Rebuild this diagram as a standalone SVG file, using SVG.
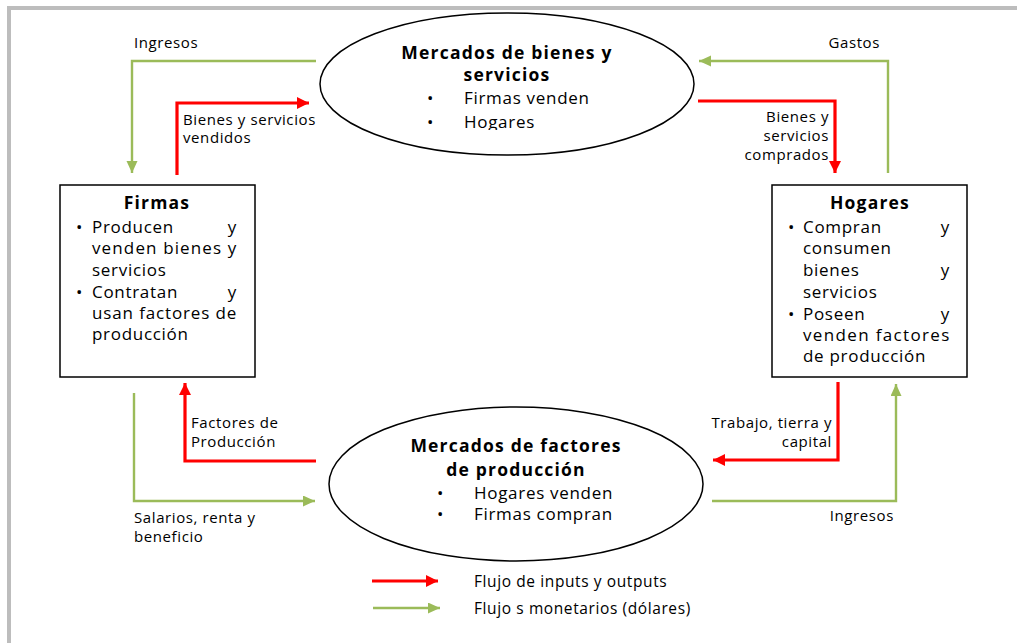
<svg xmlns="http://www.w3.org/2000/svg" width="1017" height="643" viewBox="0 0 1017 643">
<style>
.frame{fill:#bdbdbd}
.node{fill:#fff;stroke:#000;stroke-width:1.5}
.red{fill:none;stroke:#ff0000;stroke-width:3.2}
.green{fill:none;stroke:#9bbb59;stroke-width:2.4}
.t{font-family:"Open Sans","Liberation Sans",sans-serif;fill:#000}
.title{font-family:"Open Sans","Liberation Sans",sans-serif;font-weight:bold;font-size:17.5px;letter-spacing:1.2px;fill:#000}
.body{font-size:17px;letter-spacing:0.7px}
.lbl{font-family:"Open Sans","Liberation Sans",sans-serif;font-size:15px;letter-spacing:0.6px;fill:#000}
.leg{font-size:15.5px}
</style>
<defs>
<marker id="ar" markerUnits="userSpaceOnUse" markerWidth="14" markerHeight="14" refX="12" refY="6" orient="auto">
<path d="M0,0 L12,6 L0,12 z" fill="#ff0000"/>
</marker>
<marker id="ag" markerUnits="userSpaceOnUse" markerWidth="14" markerHeight="14" refX="12" refY="5.5" orient="auto">
<path d="M0,0 L12,5.5 L0,11 z" fill="#9bbb59"/>
</marker>
<clipPath id="clipTop"><rect x="300" y="10" width="420" height="120"/></clipPath>
</defs>
<rect width="1017" height="643" fill="#fff"/>
<rect class="frame" x="7" y="6" width="1010" height="4"/>
<rect class="frame" x="7" y="6" width="4" height="637"/>

<g id="connectors">
<path class="green" d="M316,61 H132 V173" marker-end="url(#ag)"/>
<path class="red" d="M177,175 V103 H309" marker-end="url(#ar)"/>
<path class="green" d="M888,173 V61 H699" marker-end="url(#ag)"/>
<path class="red" d="M698,101 H835 V173" marker-end="url(#ar)"/>
<path class="green" d="M134,393 V501 H315" marker-end="url(#ag)"/>
<path class="red" d="M316,461 H185 V383" marker-end="url(#ar)"/>
<path class="red" d="M838,382 V460 H713" marker-end="url(#ar)"/>
<path class="green" d="M712,501 H896 V384" marker-end="url(#ag)"/>
<path class="red" d="M372,581 H438" marker-end="url(#ar)"/>
<path class="green" d="M373,608 H440" marker-end="url(#ag)"/>
</g>

<g id="labels">
<text class="lbl" x="134" y="48">Ingresos</text>
<text class="lbl" x="183" y="125">Bienes y  servicios</text>
<text class="lbl" x="183" y="143">vendidos</text>
<text class="lbl" x="880" y="48" text-anchor="end">Gastos</text>
<text class="lbl" x="829" y="122" text-anchor="end">Bienes y</text>
<text class="lbl" x="829" y="141" text-anchor="end">servicios</text>
<text class="lbl" x="829" y="160" text-anchor="end">comprados</text>
<text class="lbl" x="191" y="428">Factores de</text>
<text class="lbl" x="191" y="447">Producción</text>
<text class="lbl" x="134" y="523">Salarios, renta y</text>
<text class="lbl" x="134" y="542">beneficio</text>
<text class="lbl" x="832" y="428" text-anchor="end">Trabajo, tierra y</text>
<text class="lbl" x="832" y="447" text-anchor="end">capital</text>
<text class="lbl" x="894" y="521" text-anchor="end">Ingresos</text>
<text class="lbl leg" x="474" y="587">Flujo de inputs y outputs</text>
<text class="lbl leg" x="474" y="614">Flujo s monetarios (dólares)</text>
</g>

<g id="mercado-bienes">
<ellipse class="node" cx="507" cy="84" rx="187" ry="71"/>
<g clip-path="url(#clipTop)">
<text class="title" x="507" y="59" text-anchor="middle">Mercados de bienes y</text>
<text class="title" x="507" y="81" text-anchor="middle">servicios</text>
<text class="t body" x="427" y="104">•</text>
<text class="t body" x="464" y="104">Firmas venden</text>
<text class="t body" x="427" y="128">•</text>
<text class="t body" x="464" y="128">Hogares</text>
</g>
</g>

<g id="mercado-factores">
<ellipse class="node" cx="516" cy="484" rx="187" ry="77"/>
<text class="title" x="516" y="452" text-anchor="middle">Mercados de factores</text>
<text class="title" x="516" y="476" text-anchor="middle">de producción</text>
<text class="t body" x="437" y="499">•</text>
<text class="t body" x="474" y="499">Hogares venden</text>
<text class="t body" x="437" y="520">•</text>
<text class="t body" x="474" y="520">Firmas compran</text>
</g>

<g id="firmas">
<rect class="node" x="60" y="185" width="195" height="192"/>
<text class="title" x="157" y="209" text-anchor="middle">Firmas</text>
<text class="t body" x="76" y="233">•</text>
<text class="t body" x="92" y="233">Producen</text>
<text class="t body" x="237" y="233" text-anchor="end">y</text>
<text class="t body" x="92" y="254" textLength="145" lengthAdjust="spacing">venden bienes y</text>
<text class="t body" x="92" y="276">servicios</text>
<text class="t body" x="76" y="298">•</text>
<text class="t body" x="92" y="298">Contratan</text>
<text class="t body" x="237" y="298" text-anchor="end">y</text>
<text class="t body" x="92" y="319" textLength="145" lengthAdjust="spacing">usan factores de</text>
<text class="t body" x="92" y="340">producción</text>
</g>

<g id="hogares">
<rect class="node" x="772" y="185" width="195" height="192"/>
<text class="title" x="870" y="209" text-anchor="middle">Hogares</text>
<text class="t body" x="788" y="233">•</text>
<text class="t body" x="803" y="233">Compran</text>
<text class="t body" x="950" y="233" text-anchor="end">y</text>
<text class="t body" x="803" y="254">consumen</text>
<text class="t body" x="803" y="276">bienes</text>
<text class="t body" x="950" y="276" text-anchor="end">y</text>
<text class="t body" x="803" y="298">servicios</text>
<text class="t body" x="788" y="320">•</text>
<text class="t body" x="803" y="320">Poseen</text>
<text class="t body" x="950" y="320" text-anchor="end">y</text>
<text class="t body" x="803" y="341" textLength="147" lengthAdjust="spacing">venden  factores</text>
<text class="t body" x="803" y="362">de producción</text>
</g>
</svg>
